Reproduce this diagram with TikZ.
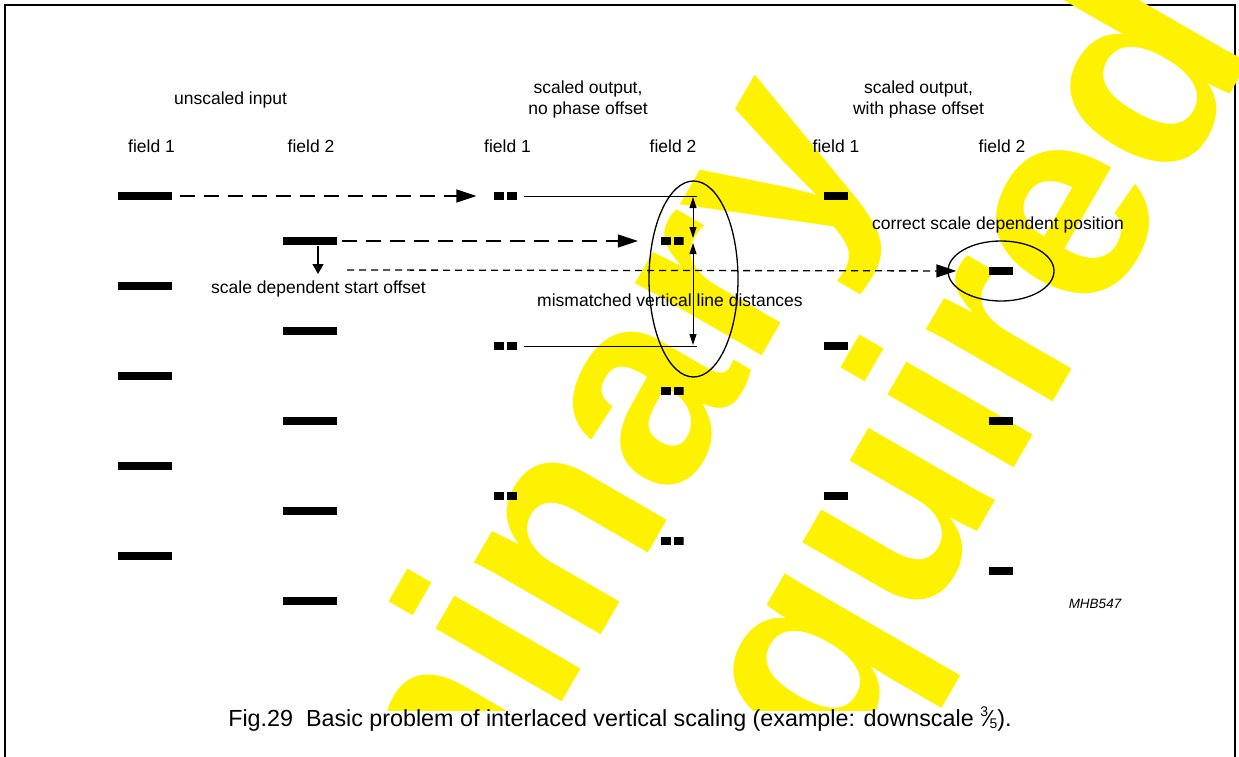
\documentclass[tikz,border=0pt]{standalone}
\usepackage{fontspec}
\setmainfont{Liberation Sans}
\usetikzlibrary{arrows.meta,shapes.geometric}
\newcommand{\frc}[2]{\raisebox{.42em}{\fontsize{14}{14}\selectfont #1}\kern-.05em\char"2044\kern-.05em\raisebox{-.12em}{\fontsize{14}{14}\selectfont #2}}
\begin{document}
\begin{tikzpicture}[x=1pt,y=-1pt,line width=1.3pt,
   lbl/.style={inner sep=0,anchor=base,font=\fontsize{17.5}{20.5}\selectfont},
   figcap/.style={inner sep=0,anchor=base,font=\fontsize{23.3}{28}\selectfont},
   code/.style={inner sep=0,anchor=base,font=\fontsize{13.5}{16}\selectfont\itshape},
   wmark/.style={inner sep=0,anchor=base west,rotate=60,text=yellow,font=\fontsize{276}{276}\selectfont\bfseries},
   bar/.style={fill,inner sep=0,minimum width=54pt,minimum height=8.5pt},
   sbar/.style={fill,inner sep=0,minimum width=24pt,minimum height=8.5pt},
   dbar/.style={inner sep=0,minimum width=23pt,minimum height=8.5pt,
      path picture={\fill (path picture bounding box.south west) rectangle ++(10pt,8.5pt);
         \fill (path picture bounding box.south east) rectangle ++(-10pt,8.5pt);}},
   oval/.style={draw,ellipse,inner sep=0},
   longdash/.style={dash pattern=on 15pt off 9pt,-{Triangle[length=20pt,width=13pt]}},
   shortdash/.style={dash pattern=on 7pt off 5pt,-{Triangle[length=20pt,width=13pt]}},
   thinln/.style={line width=.9pt},
   dimarr/.style={line width=1pt,{Triangle[length=11pt,width=7pt]}-{Triangle[length=11pt,width=7pt]}}]

   \useasboundingbox (0,0) rectangle (1239,757);
   \draw[line width=1.6pt] (5,765) -- (5,5) -- (1235,5) -- (1235,765);

   % watermark
   \begin{scope}
      \clip (0,0) rectangle (1239,710);
      \path (130.7,1449.6) node[wmark] (wm1) {Preliminary};
      \path (659.6,1082.6) node[wmark] (wm2) {Required};
   \end{scope}

   % headings
   \path (230.5,105) node[lbl] (unin) {unscaled input};
   \path (588,114) node[lbl,align=center] (nohd) {scaled output,\\no phase offset};
   \path (918.5,114) node[lbl,align=center] (phhd) {scaled output,\\with phase offset};
   \path (151.5,152) node[lbl] (f1) {field 1};
   \path (311,152) node[lbl] (f2) {field 2};
   \path (507.5,152) node[lbl] (f3) {field 1};
   \path (673,152) node[lbl] (f4) {field 2};
   \path (836,152) node[lbl] (f5) {field 1};
   \path (1002,152) node[lbl] (f6) {field 2};

   % unscaled input
   \path (145,196) node[bar] (i1a) {};
   \path (145,286) node[bar] (i1b) {};
   \path (145,376) node[bar] (i1c) {};
   \path (145,466) node[bar] (i1d) {};
   \path (145,556) node[bar] (i1e) {};
   \path (310,241) node[bar] (i2a) {};
   \path (310,331) node[bar] (i2b) {};
   \path (310,421) node[bar] (i2c) {};
   \path (310,511) node[bar] (i2d) {};
   \path (310,601) node[bar] (i2e) {};

   % scaled output, no phase offset
   \path (505.5,196) node[dbar] (o1a) {};
   \path (505.5,346) node[dbar] (o1b) {};
   \path (505.5,496) node[dbar] (o1c) {};
   \path (672,241) node[dbar] (o2a) {};
   \path (672,391) node[dbar] (o2b) {};
   \path (672,541) node[dbar] (o2c) {};

   % scaled output, with phase offset
   \path (836,196) node[sbar] (p1a) {};
   \path (836,346) node[sbar] (p1b) {};
   \path (836,496) node[sbar] (p1c) {};
   \path (1001,271) node[sbar] (p2a) {};
   \path (1001,421) node[sbar] (p2b) {};
   \path (1001,571) node[sbar] (p2c) {};

   \coordinate (offs) at (318,274);
   \coordinate (offst) at (347,270);
   \coordinate (l1) at (697,196);
   \coordinate (l2) at (697,346);
   \coordinate (d1) at (693,197);
   \coordinate (d2) at (693,241);
   \coordinate (d3) at (693,345);

   \draw[longdash,shorten <=7pt,shorten >=17pt] (i1a.east) -- (o1a.west);
   \draw[longdash,shorten <=4pt,shorten >=22pt] (i2a.east) -- (o2a.west);
   \draw[line width=1.2pt,-{Triangle[length=10pt,width=11pt]}] ([xshift=8pt]i2a.south) -- (offs);
   \draw[shortdash,shorten >=32pt] (offst) -- (p2a.west);
   \draw[thinln,shorten <=6pt] (o1a.east) -- (l1);
   \draw[thinln,shorten <=6pt] (o1b.east) -- (l2);
   \draw[dimarr,shorten >=3pt] (d1) -- (d2);
   \draw[dimarr,shorten <=2pt] (d2) -- (d3);

   \path (693.5,279) node[oval,minimum width=89pt,minimum height=196pt] (mism) {};
   \path (1001,271) node[oval,minimum width=106pt,minimum height=60pt] (corr) {};

   \path (318.5,293) node[lbl] (sdso) {scale dependent start offset};
   \path (670,306) node[lbl] (mvld) {mismatched vertical line distances};
   \path (998,229) node[lbl] (csdp) {correct scale dependent position};
   \path (1095,608) node[code] (mhb) {MHB547};

   \path (620,726) node[figcap] (fig) {Fig.29\ \ Basic problem of interlaced vertical scaling (example: downscale \frc{3}{5}).};

\end{tikzpicture}
\end{document}
